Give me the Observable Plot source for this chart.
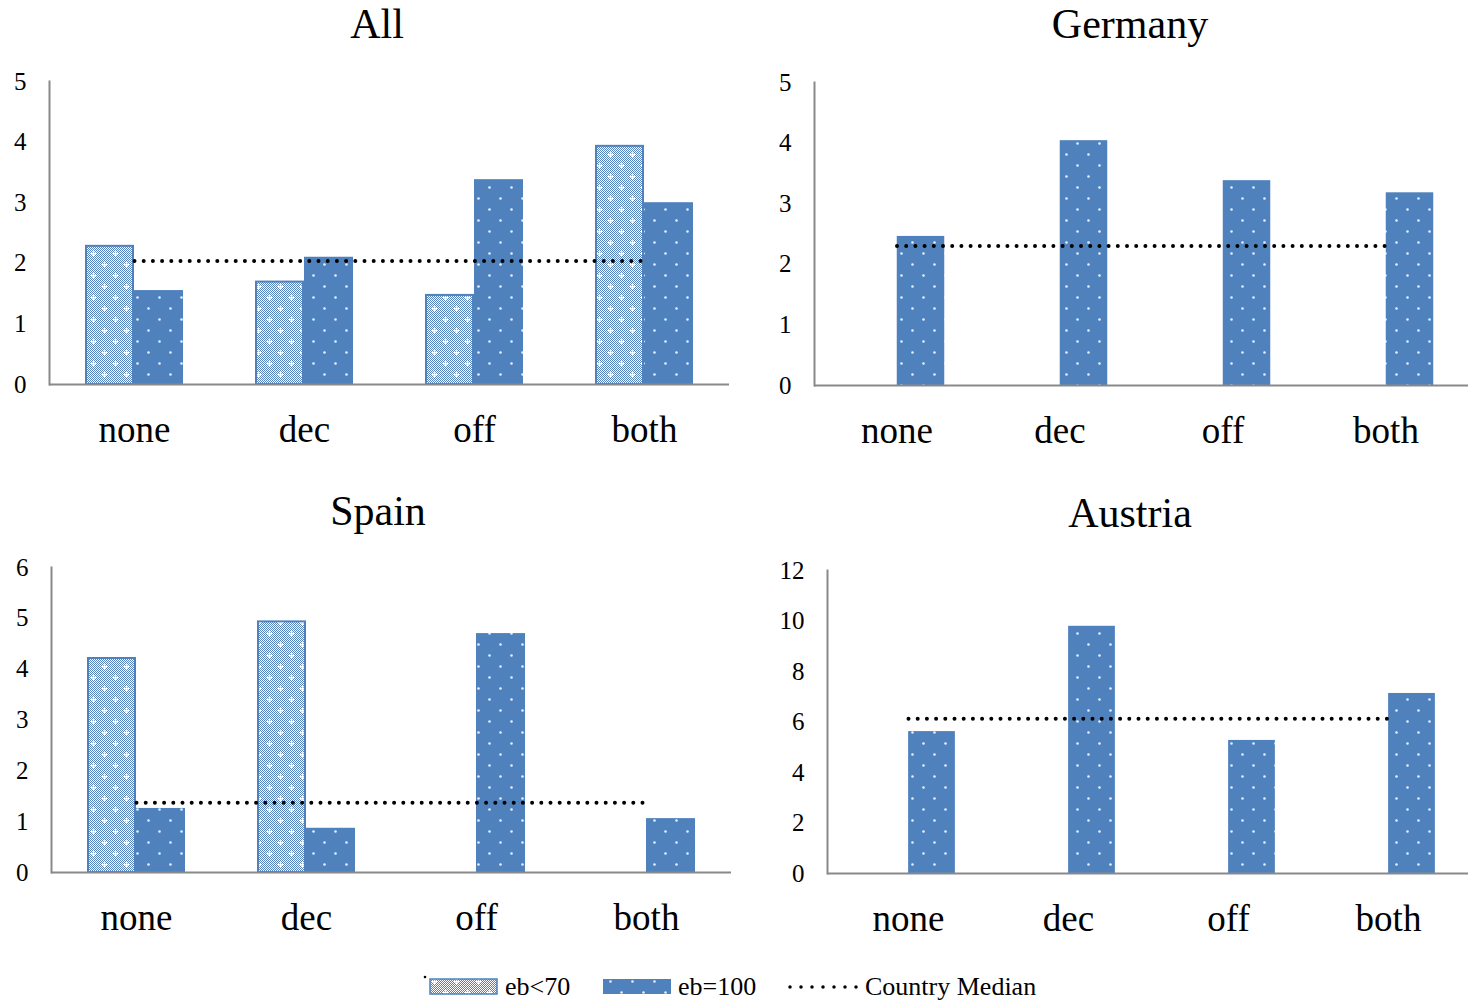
<!DOCTYPE html>
<html><head><meta charset="utf-8">
<script src="https://cdn.jsdelivr.net/npm/d3@7"></script>
<script src="https://cdn.jsdelivr.net/npm/@observablehq/plot@0.6"></script>
<style>
body{margin:0;background:#fff;font-family:"Liberation Serif","Times New Roman",serif;}
#root{position:relative;width:1468px;height:1001px;overflow:hidden;background:#fff;}
.panel{position:absolute;}
.panel text{font-family:"Liberation Serif","Times New Roman",serif !important;font-variant:normal !important;}
.title{position:absolute;font-size:42px;line-height:42px;white-space:nowrap;transform:translateX(-50%);color:#000;}
</style>
</head><body>
<svg width="0" height="0" style="position:absolute">
<defs>
  <pattern id="chk" width="2" height="2" patternUnits="userSpaceOnUse">
    <rect width="2" height="2" fill="#ffffff"/>
    <rect width="1" height="1" fill="#5583c0"/>
    <rect x="1" y="1" width="1" height="1" fill="#5583c0"/>
  </pattern>
  <pattern id="hatch" width="22" height="22" patternUnits="userSpaceOnUse">
    <rect width="22" height="22" fill="url(#chk)"/>
    <g fill="#ffffff">
      <rect x="3" y="5" width="5" height="1.5"/><rect x="4.8" y="3.2" width="1.5" height="5"/>
      <rect x="14" y="16" width="5" height="1.5"/><rect x="15.8" y="14.2" width="1.5" height="5"/>
    </g>
  </pattern>
  <pattern id="dots" width="22" height="22" patternUnits="userSpaceOnUse">
    <rect width="22" height="22" fill="#4f81bd"/>
    <circle cx="5.5" cy="5.5" r="1.3" fill="#e6edf7"/>
    <circle cx="16.5" cy="16.5" r="1.3" fill="#e6edf7"/>
  </pattern>
</defs>
</svg>
<div id="root"></div>
<script>
// ---- data ----
const categories = ["none", "dec", "off", "both"];
const allLow    = [2.28, 1.69, 1.47, 3.93];
const allHigh   = [1.55, 2.10, 3.38, 3.00];
const allMedian = 2.04;
const germanyHigh   = [2.46, 4.04, 3.38, 3.18];
const germanyMedian = 2.30;
const spainLow    = [4.21, 4.93, null, null];
const spainHigh   = [1.26, 0.87, 4.70, 1.06];
const spainMedian = 1.37;
const austriaHigh   = [5.62, 9.79, 5.27, 7.13];
const austriaMedian = 6.13;
const ticks5  = [0, 1, 2, 3, 4, 5];
const ticks6  = [0, 1, 2, 3, 4, 5, 6];
const ticks12 = [0, 2, 4, 6, 8, 10, 12];
const titles = ["All", "Germany", "Spain", "Austria"];
const legendLabels = ["eb<70", "eb=100", "Country Median"];

const root = document.getElementById("root");
const AX = "#898989";
const SERIF = "Liberation Serif";

function panel(cfg) {
  const rows = categories.map((c, i) => ({
    cat: c,
    low: cfg.low ? cfg.low[i] : null,
    high: cfg.high[i],
    median: cfg.median
  }));
  const innerW = cfg.width - cfg.marginLeft - cfg.marginRight;
  const bw = innerW / categories.length;
  const marks = [];
  if (cfg.low) {
    marks.push(Plot.barY(rows.filter(d => d.low != null), {
      x: "cat", y: "low", fill: "url(#hatch)", stroke: "#4f81bd", strokeWidth: 2,
      insetLeft: bw / 2 - cfg.barW + 1, insetRight: bw / 2 + 1
    }));
  }
  marks.push(Plot.barY(rows, {
    x: "cat", y: "high", fill: "url(#dots)",
    insetLeft: bw / 2, insetRight: bw / 2 - cfg.barW
  }));
  marks.push(Plot.ruleY([0], {stroke: AX, strokeWidth: 2}));
  marks.push(Plot.frame({anchor: "left", stroke: AX, strokeWidth: 2}));
  marks.push(Plot.lineY(rows, {
    x: "cat", y: "median", stroke: "#000", strokeWidth: 4,
    strokeDasharray: "0 9.2", strokeLinecap: "round"
  }));
  marks.push(Plot.axisX({tickSize: 0, tickPadding: 31, fontSize: 37, fontFamily: SERIF, fill: "#000", label: null}));
  // y tick labels drawn with the y scale
  marks.push(Plot.text(cfg.ticks, {
    y: d => d, text: d => String(d), frameAnchor: "left", dx: -23, textAnchor: "end",
    fontSize: 25, fontFamily: SERIF, fill: "#000"
  }));

  const svg = Plot.plot({
    width: cfg.width, height: cfg.height,
    marginLeft: cfg.marginLeft, marginRight: cfg.marginRight,
    marginTop: cfg.marginTop, marginBottom: cfg.marginBottom,
    x: {domain: categories, padding: 0, label: null},
    y: {domain: [0, cfg.ticks[cfg.ticks.length - 1]], label: null, axis: null},
    style: {fontFamily: SERIF, color: "#000", background: "transparent", overflow: "visible"},
    marks
  });
  svg.classList.add("panel");
  svg.style.left = cfg.left + "px";
  svg.style.top = cfg.top + "px";
  root.appendChild(svg);

  const t = document.createElement("div");
  t.className = "title";
  t.textContent = cfg.title;
  t.style.left = cfg.titleX + "px";
  t.style.top = cfg.titleY + "px";
  root.appendChild(t);
}

panel({title: titles[0], titleX: 377, titleY: 3, left: 0, top: 50, width: 740, height: 420,
  marginLeft: 49, marginRight: 11, marginTop: 31, marginBottom: 86,
  ticks: ticks5, low: allLow, high: allHigh, median: allMedian, barW: 49});
panel({title: titles[1], titleX: 1130, titleY: 3, left: 764, top: 50, width: 704, height: 420,
  marginLeft: 50, marginRight: 0, marginTop: 32, marginBottom: 85,
  ticks: ticks5, low: null, high: germanyHigh, median: germanyMedian, barW: 48});
panel({title: titles[2], titleX: 378, titleY: 490, left: 0, top: 540, width: 740, height: 420,
  marginLeft: 51, marginRight: 9, marginTop: 27, marginBottom: 88,
  ticks: ticks6, low: spainLow, high: spainHigh, median: spainMedian, barW: 49});
panel({title: titles[3], titleX: 1130, titleY: 492, left: 764, top: 540, width: 704, height: 420,
  marginLeft: 63, marginRight: 0, marginTop: 30, marginBottom: 87,
  ticks: ticks12, low: null, high: austriaHigh, median: austriaMedian, barW: 47});

// ---- legend ----
const ns = "http://www.w3.org/2000/svg";
const lg = document.createElementNS(ns, "svg");
lg.setAttribute("width", 1468); lg.setAttribute("height", 40);
lg.style.position = "absolute"; lg.style.left = "0px"; lg.style.top = "965px";
lg.innerHTML = `
  <circle cx="425" cy="12" r="1.3" fill="#000"/>
  <rect x="430" y="14" width="67" height="15" fill="url(#hatch)" stroke="#4f81bd" stroke-width="1.5"/>
  <text x="505" y="30" font-size="26" font-family="Liberation Serif" fill="#000">${legendLabels[0].replace("<","&lt;")}</text>
  <rect x="603" y="14" width="68" height="15" fill="url(#dots)"/>
  <text x="678" y="30" font-size="26" font-family="Liberation Serif" fill="#000">${legendLabels[1]}</text>
  <line x1="790" y1="22" x2="857" y2="22" stroke="#000" stroke-width="3.5" stroke-dasharray="0 11" stroke-linecap="round"/>
  <text x="865" y="30" font-size="26" font-family="Liberation Serif" fill="#000">${legendLabels[2]}</text>`;
root.appendChild(lg);
</script>
</body></html>
